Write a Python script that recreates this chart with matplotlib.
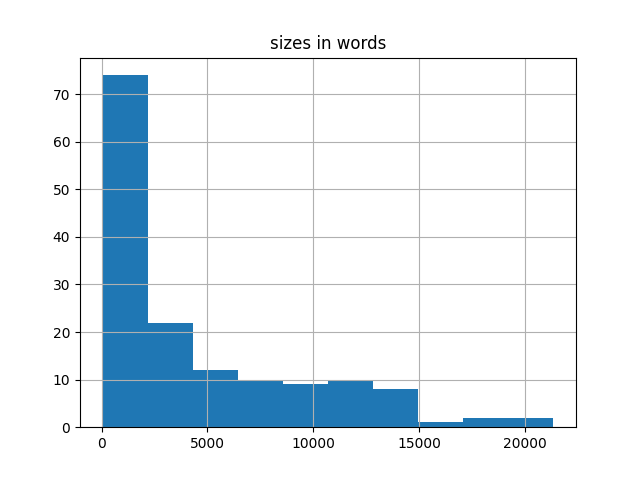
import matplotlib
matplotlib.use("Agg")
import matplotlib.pyplot as plt
import numpy as np

title = "sizes in words"
bin_start = 45
bin_end = 21345
counts = [74, 22, 12, 10, 9, 10, 8, 1, 2, 2]

edges = np.linspace(bin_start, bin_end, len(counts) + 1)
centers = (edges[:-1] + edges[1:]) / 2

fig, ax = plt.subplots(figsize=(6.4, 4.8), dpi=100)
ax.hist(centers, bins=edges, weights=counts, color="#1f77b4")
ax.grid(True)
ax.set_title(title)
fig.savefig("out.png")
